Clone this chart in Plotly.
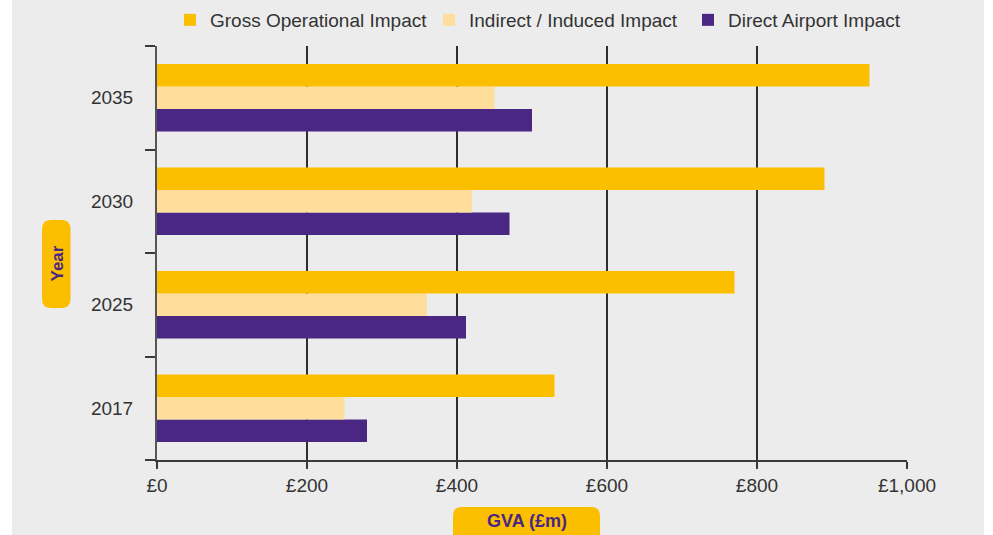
import plotly.graph_objects as go

# GVA by year (£m)
years = ["2017", "2025", "2030", "2035"]
gross_operational = [530, 770, 890, 950]
indirect_induced = [250, 360, 420, 450]
direct_airport = [280, 412, 470, 500]

series_names = ["Direct Airport Impact", "Indirect / Induced Impact", "Gross Operational Impact"]
series_values = [direct_airport, indirect_induced, gross_operational]
series_colors = ["#4A2783", "#FFDE9B", "#FBBF00"]

x_ticks = [0, 200, 400, 600, 800, 1000]

W, H = 993, 535
ML, MR, MT, MB = 157, 86, 46, 75
PW, PH = W - ML - MR, H - MT - MB

FONT = "Liberation Sans, Arial, Helvetica, sans-serif"
TEXT = "#333333"
YELLOW = "#FBBF00"
PURPLE = "#4A2783"
BG = "#ECECEC"


def px_x(x):
    return (x - ML) / PW


def px_y(y):
    return (H - MB - y) / PH


def rounded_rect(x0, y0, x1, y1, r):
    """SVG path (paper units) for a rounded rectangle given in pixels."""
    def P(x, y):
        return f"{px_x(x):.5f},{px_y(y):.5f}"
    pts = [
        f"M{P(x0 + r, y0)}",
        f"L{P(x1 - r, y0)}",
        f"Q{P(x1, y0)} {P(x1, y0 + r)}",
        f"L{P(x1, y1 - r)}",
        f"Q{P(x1, y1)} {P(x1 - r, y1)}",
        f"L{P(x0 + r, y1)}",
        f"Q{P(x0, y1)} {P(x0, y1 - r)}",
        f"L{P(x0, y0 + r)}",
        f"Q{P(x0, y0)} {P(x0 + r, y0)}",
        "Z",
    ]
    return " ".join(pts)


fig = go.Figure()
for name, vals, col in zip(series_names, series_values, series_colors):
    fig.add_trace(go.Bar(
        y=years, x=vals, name=name, orientation="h",
        marker=dict(color=col, line=dict(width=0)),
    ))

shapes = [
    # white strips at the page edges
    dict(type="rect", xref="paper", yref="paper", layer="below",
         x0=px_x(0), x1=px_x(12), y0=px_y(-5), y1=px_y(H + 5),
         fillcolor="white", line=dict(width=0)),
    dict(type="rect", xref="paper", yref="paper", layer="below",
         x0=px_x(984), x1=px_x(W + 5), y0=px_y(-5), y1=px_y(H + 5),
         fillcolor="white", line=dict(width=0)),
    # axis title badges
    dict(type="path", xref="paper", yref="paper",
         path=rounded_rect(42, 220, 70.5, 308, 9),
         fillcolor=YELLOW, line=dict(width=0)),
    dict(type="path", xref="paper", yref="paper",
         path=rounded_rect(453, 507, 600, 545, 9),
         fillcolor=YELLOW, line=dict(width=0)),
]

annotations = [
    dict(text="<b>Year</b>", xref="paper", yref="paper",
         x=px_x(56.5), y=px_y(264), textangle=-90, showarrow=False,
         font=dict(family=FONT, size=17, color=PURPLE),
         xanchor="center", yanchor="middle"),
    dict(text="<b>GVA (£m)</b>", xref="paper", yref="paper",
         x=px_x(526.5), y=px_y(521), showarrow=False,
         font=dict(family=FONT, size=18, color=PURPLE),
         xanchor="center", yanchor="middle"),
]

fig.update_layout(
    width=W, height=H,
    margin=dict(l=ML, r=MR, t=MT, b=MB, pad=0, autoexpand=False),
    paper_bgcolor=BG, plot_bgcolor=BG,
    barmode="group", bargap=0.35, bargroupgap=0,
    font=dict(family=FONT, size=19, color=TEXT),
    showlegend=True,
    legend=dict(orientation="h", traceorder="reversed",
                x=px_x(947), y=px_y(1), xanchor="right", yanchor="top",
                font=dict(family=FONT, size=19, color=TEXT),
                bgcolor="rgba(0,0,0,0)", itemwidth=30,
                entrywidth=214, entrywidthmode="pixels"),
    xaxis=dict(
        range=[0, 1000], tickvals=x_ticks,
        ticktext=[f"£{v:,}" for v in x_ticks],
        showgrid=True, gridcolor="#2E2E2E", gridwidth=1.5,
        zeroline=False, showline=True, linecolor="#3A3A3A", linewidth=1.5,
        ticks="outside", ticklen=7, tickcolor="#3A3A3A", tickwidth=1.5,
        tickfont=dict(family=FONT, size=19, color=TEXT),
        fixedrange=True,
    ),
    yaxis=dict(
        type="category", categoryorder="array", categoryarray=years,
        showgrid=False, zeroline=False,
        showline=True, linecolor="#555555", linewidth=2,
        ticks="outside", tickson="boundaries", ticklen=10,
        tickcolor="#3A3A3A", tickwidth=1.5,
        ticklabelstandoff=18,
        tickfont=dict(family=FONT, size=19, color=TEXT),
        fixedrange=True,
    ),
    shapes=shapes,
    annotations=annotations,
)

fig.write_html("out.html")
